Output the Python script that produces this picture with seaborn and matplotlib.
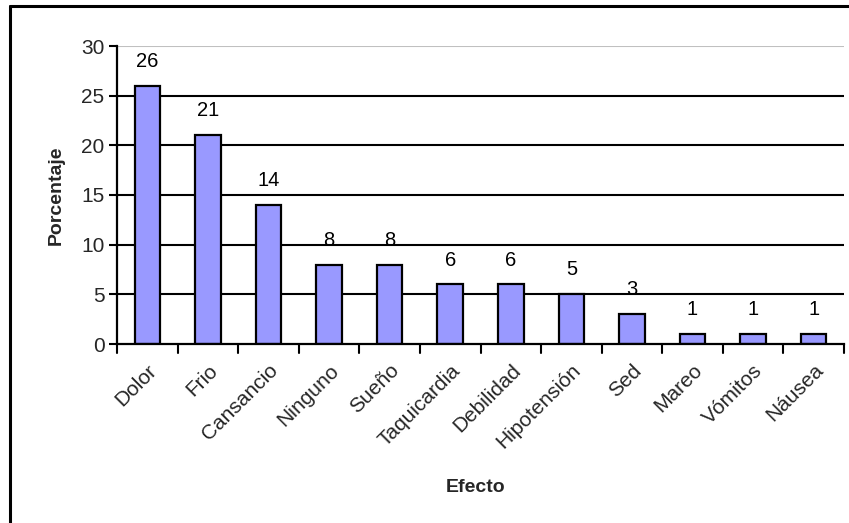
import matplotlib
matplotlib.use("Agg")
import pandas as pd
import seaborn as sns
import matplotlib.pyplot as plt
from matplotlib.lines import Line2D

efectos = ["Dolor", "Frio", "Cansancio", "Ninguno", "Sueño", "Taquicardia",
           "Debilidad", "Hipotensión", "Sed", "Mareo", "Vómitos", "Náusea"]
porcentaje = [26, 21, 14, 8, 8, 6, 6, 5, 3, 1, 1, 1]

df = pd.DataFrame({"Efecto": efectos, "Porcentaje": porcentaje})

sns.set_theme(style="white")
plt.rcParams["font.family"] = ["Liberation Sans", "DejaVu Sans"]

fig = plt.figure(figsize=(8.49, 5.23), dpi=100)
ax = fig.add_axes([117 / 849, 1 - 344 / 523, 727 / 849, 298 / 523])

sns.barplot(data=df, x="Efecto", y="Porcentaje", color="#9999FF",
            saturation=1, width=0.42, edgecolor="black", linewidth=1.6, ax=ax)

# value labels
for i, v in enumerate(porcentaje):
    ax.text(i, v + 1.5, str(v), ha="center", va="bottom", fontsize=14.5, color="black")

ax.set_ylim(0, 30)
ax.set_xlim(-0.5, len(efectos) - 0.5)
ax.set_yticks(range(0, 31, 5))
ax.tick_params(axis="y", labelsize=15, length=6, width=1.5, color="black",
               left=True, pad=3)
ax.tick_params(axis="x", labelsize=15, bottom=False, pad=6)
plt.setp(ax.get_xticklabels(), rotation=45, ha="right", rotation_mode="anchor")

# ticks between categories
for b in range(len(efectos) + 1):
    ax.plot([b - 0.5, b - 0.5], [0, -0.9], color="black", lw=1.5, clip_on=False)

# gridlines
for g in range(5, 30, 5):
    ax.axhline(g, color="black", lw=1.5, zorder=0)
ax.axhline(30, color="#c0c0c0", lw=1.5, zorder=0)

for s in ["top", "right"]:
    ax.spines[s].set_visible(False)
ax.spines["left"].set_color("black")
ax.spines["left"].set_linewidth(1.6)
ax.spines["bottom"].set_color("black")
ax.spines["bottom"].set_linewidth(1.6)

ax.set_ylabel("Porcentaje", fontsize=14, fontweight="bold", labelpad=12)
ax.set_xlabel("")
fig.text(476 / 849, 1 - 487 / 523, "Efecto", fontsize=14, fontweight="bold",
         ha="center", va="center")

# outer chart frame
fig.add_artist(Line2D([10 / 849, 1], [1 - 6 / 523, 1 - 6 / 523], color="black", lw=2.2))
fig.add_artist(Line2D([10 / 849, 10 / 849], [0, 1 - 6 / 523], color="black", lw=2.2))

fig.savefig("out.png", dpi=100, facecolor="white")
